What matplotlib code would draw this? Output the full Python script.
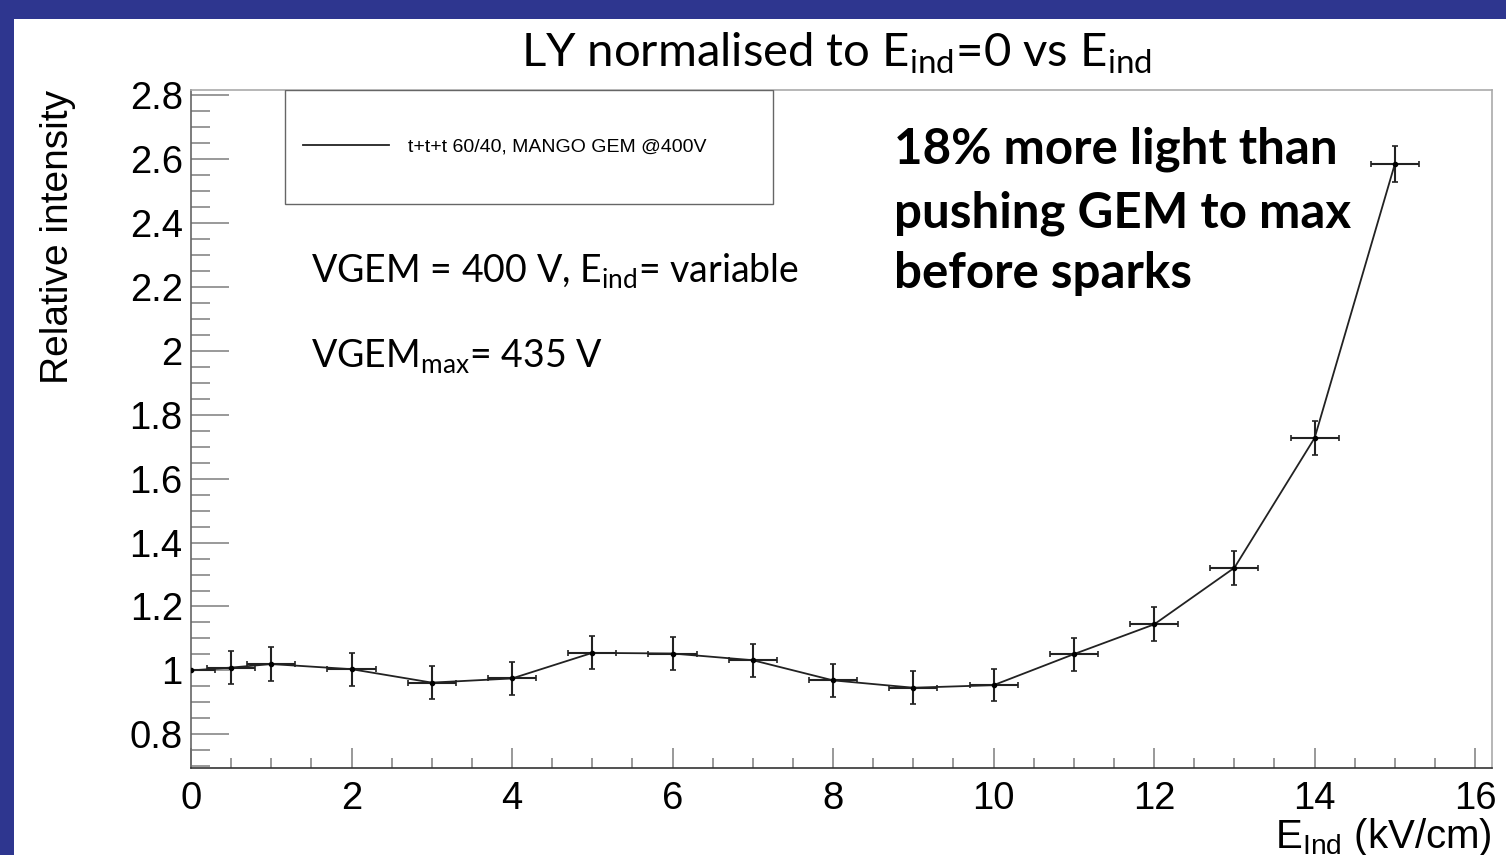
import matplotlib
matplotlib.use("Agg")
import matplotlib.pyplot as plt
from matplotlib.patches import Rectangle
from matplotlib.ticker import MultipleLocator, FuncFormatter

# Induction field scan (kV/cm) and light yield relative to E_ind = 0
e_ind = [0, 0.5, 1, 2, 3, 4, 5, 6, 7, 8, 9, 10, 11, 12, 13, 14, 15]
rel_intensity = [1.000, 1.009, 1.020, 1.004, 0.962, 0.975, 1.055, 1.053, 1.032,
                 0.969, 0.946, 0.954, 1.051, 1.144, 1.321, 1.727, 2.584]
rel_err = [0.0, 0.052, 0.052, 0.052, 0.051, 0.052, 0.052, 0.052, 0.052,
           0.052, 0.052, 0.051, 0.052, 0.053, 0.053, 0.053, 0.056]
e_err = [0.3] * len(e_ind)

legend_label = "t+t+t 60/40, MANGO GEM @400V"
x_ticks = list(range(0, 17, 2))

plt.rcParams['mathtext.fontset'] = 'custom'
plt.rcParams['mathtext.default'] = 'regular'

W, H = 1506, 855
fig = plt.figure(figsize=(W / 100, H / 100), dpi=100, facecolor='#2E368F')
fig.patches.append(Rectangle((14 / W, 0), 1 - 14 / W, (H - 19) / H,
                             transform=fig.transFigure, facecolor='white',
                             edgecolor='none', zorder=-10))

ax = fig.add_axes([191 / W, 1 - 768 / H, (1492 - 191) / W, (768 - 90) / H])
ax.set_xlim(0, 16.21)
ax.set_ylim(0.695, 2.815)

ax.errorbar(e_ind, rel_intensity, yerr=rel_err, xerr=e_err, fmt='none',
            ecolor='#222222', elinewidth=1.5, capsize=2, capthick=1.2, zorder=3)
line, = ax.plot(e_ind, rel_intensity, color='#222222', lw=1.3, zorder=4)
ax.plot(e_ind, rel_intensity, ls='none', marker='o', ms=3, color='black', zorder=5)

# ROOT-style frame and ticks
for side, col in (('left', '#666666'), ('bottom', '#333333'),
                  ('top', '#aaaaaa'), ('right', '#aaaaaa')):
    ax.spines[side].set_color(col)
    ax.spines[side].set_linewidth(1.2)

ax.set_xticks(x_ticks)
ax.xaxis.set_minor_locator(MultipleLocator(0.5))
ax.yaxis.set_major_locator(MultipleLocator(0.2))
ax.yaxis.set_minor_locator(MultipleLocator(0.05))
ax.yaxis.set_major_formatter(FuncFormatter(lambda v, p: f"{v:g}"))
ax.tick_params(axis='both', which='both', direction='in', color='#888888',
               width=1.2, top=False, right=False, labelcolor='black',
               labelsize=27.5, labelfontfamily='Liberation Sans')
ax.tick_params(axis='x', which='major', length=14.4, pad=9)
ax.tick_params(axis='x', which='minor', length=7.2)
ax.tick_params(axis='y', which='major', length=27, pad=6)
ax.tick_params(axis='y', which='minor', length=13.7)

# Legend box
ax.add_patch(Rectangle(((285 - 191) / 1301, (768 - 204) / 678),
                       (773 - 285) / 1301, (204 - 90) / 678,
                       transform=ax.transAxes, fill=False, edgecolor='#666666',
                       lw=1.0, zorder=6))
ax.legend([line], [legend_label], loc='center left',
          bbox_to_anchor=((303 - 191) / 1301, (768 - 147) / 678),
          frameon=False, handlelength=4.4, handletextpad=1.0, borderpad=0,
          borderaxespad=0, prop={'family': 'Liberation Sans', 'size': 14})

# Axis titles
fig.text(58 / W, 1 - 90 / H, "Relative intensity", rotation=90, ha='center',
         va='top', family='Liberation Sans', size=28)
fig.text(1492 / W, 1 - 848 / H, r"E$_{Ind}$ (kV/cm)", ha='right',
         va='baseline', family='Liberation Sans', size=29)

# Slide texts
fig.text(836 / W, 1 - 67 / H, r"LY normalised to E$_{ind}$=0 vs E$_{ind}$",
         ha='center', va='baseline', family='Lato', size=34)
fig.text(311 / W, 1 - 282 / H, r"VGEM = 400 V, E$_{ind}$= variable",
         ha='left', va='baseline', family='Lato', size=27)
fig.text(311 / W, 1 - 367 / H, r"VGEM$_{max}$= 435 V",
         ha='left', va='baseline', family='Lato', size=27)
for txt, base in (("18% more light than", 163), ("pushing GEM to max", 228),
                  ("before sparks", 288)):
    fig.text(894 / W, 1 - base / H, txt, ha='left', va='baseline',
             family='Lato', weight='bold', size=35.5)

fig.savefig("out.png", dpi=100, facecolor=fig.get_facecolor())
